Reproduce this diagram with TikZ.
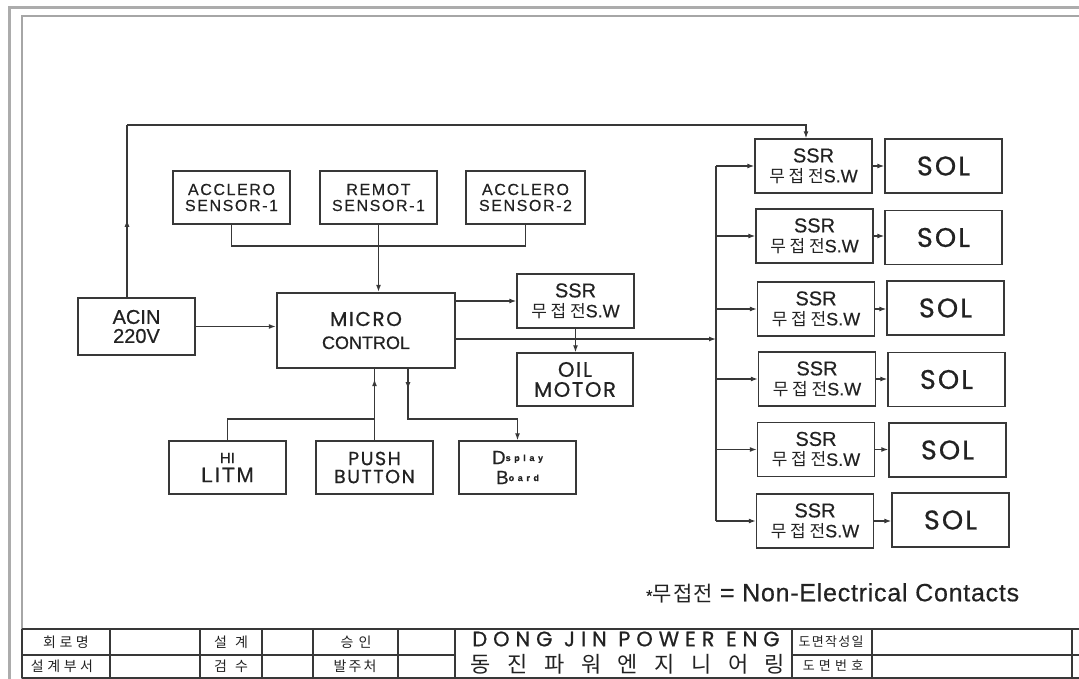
\documentclass[tikz,border=0pt]{standalone}
\usepackage{fontspec}
\setmainfont[FakeBold=0.5]{Liberation Sans}
\newfontfamily\geo[LetterSpace=8, FakeBold=0.7]{Poppins}
\newfontfamily\kr{Noto Sans CJK KR}
\newfontfamily\wide[LetterSpace=10, FakeBold=0.4]{Liberation Sans}
\usetikzlibrary{arrows.meta,decorations.markings}
\definecolor{ink}{HTML}{383838}
\definecolor{txt}{HTML}{222222}
\newcommand{\ssrtxt}{{\fontsize{20}{20}\selectfont SSR}\\{\kr\addfontfeature{LetterSpace=22}\fontsize{17}{17}\selectfont 무접전}{\fontsize{18}{18}\selectfont S.W}}
\newcommand{\soltxt}{SOL}
\begin{document}
\begin{tikzpicture}[x=1pt,y=-1pt,
  box/.style={draw=ink, line width=1.4pt, inner sep=0pt, align=center, text=txt, minimum width=117pt, minimum height=54pt},
  ssrbox/.style={box, font=\fontsize{18}{20}\selectfont},
  solbox/.style={box, font=\geo\fontsize{27}{27}\selectfont},
  conn/.style={draw=ink, line width=1.3pt},
  arr/.style={conn, -{Latex[length=7pt,width=5pt]}},
  midarr/.style={conn, postaction={decorate}, decoration={markings, mark=at position #1 with {\arrow{Latex[length=7pt,width=5pt]}}}},
  lab/.style={inner sep=0pt, text=txt},
  tline/.style={draw=ink, line width=1.3pt}
]
\useasboundingbox (0,0) rectangle (1079,679);
% frame
\draw[gray!65, line width=3pt] (9,679) -- (9,8) -- (1079,8);
\draw[gray!70, line width=1.2pt] (22,679) -- (22,16) -- (1079,16);

% nodes
\node[box, minimum height=57pt, font=\fontsize{20}{19}\selectfont] (acin) at (136.5,326.5) {ACIN\\220V};
\node[box, minimum height=53pt, font=\wide\fontsize{16}{16}\selectfont] (s1) at (231.5,197.5) {ACCLERO\\SENSOR-1};
\node[box, minimum height=53pt, font=\wide\fontsize{16}{16}\selectfont] (s2) at (378.5,197.5) {REMOT\\SENSOR-1};
\node[box, minimum width=119pt, minimum height=53pt, font=\wide\fontsize{16}{16}\selectfont] (s3) at (525.5,197.5) {ACCLERO\\SENSOR-2};
\node[box, line width=2.4pt, minimum width=178pt, minimum height=75pt, font=\fontsize{18}{23}\selectfont] (micro) at (366,330.5) {{\geo\fontsize{20}{20}\selectfont MICRO}\\{\fontsize{18}{18}\selectfont CONTROL}};
\node[ssrbox] (ssrm) at (575.5,301) {\ssrtxt};
\node[box, minimum width=116pt, minimum height=53pt, font=\geo\fontsize{21}{20}\selectfont] (oil) at (575,379.5) {OIL\\MOTOR};
\node[box, minimum height=53pt, font=\fontsize{20}{19}\selectfont] (hi) at (227.5,467.5) {{\fontsize{15}{15}\selectfont HI}\\{\addfontfeature{LetterSpace=8}\fontsize{21}{21}\selectfont LITM}};
\node[box, minimum height=53pt, font=\geo\fontsize{19}{18}\selectfont] (push) at (374.5,467.5) {PUSH\\BUTTON};
\node[box, minimum height=53pt, font=\fontsize{19}{20}\selectfont] (disp) at (517.5,467.5) {D{\raisebox{3pt}{\bfseries\fontsize{9}{9}\selectfont\addfontfeature{LetterSpace=40} splay}}\\B{\raisebox{3pt}{\bfseries\fontsize{9}{9}\selectfont\addfontfeature{LetterSpace=40} oard}}};

\node[ssrbox] (ssr1) at (813.5,166) {\ssrtxt};
\node[ssrbox] (ssr2) at (814.5,236) {\ssrtxt};
\node[ssrbox] (ssr3) at (816,309) {\ssrtxt};
\node[ssrbox] (ssr4) at (817,379) {\ssrtxt};
\node[ssrbox] (ssr5) at (816,449.5) {\ssrtxt};
\node[ssrbox] (ssr6) at (815,521) {\ssrtxt};
\node[solbox] (sol1) at (943.5,166) {\soltxt};
\node[solbox] (sol2) at (943.5,237.5) {\soltxt};
\node[solbox] (sol3) at (945.5,308) {\soltxt};
\node[solbox] (sol4) at (946.5,379.5) {\soltxt};
\node[solbox] (sol5) at (947.5,450) {\soltxt};
\node[solbox] (sol6) at (950.5,520) {\soltxt};

% connectors
\coordinate (tl) at (127,125);
\coordinate (tr) at (806,125);
\draw[midarr=0.45] ([xshift=-9.5pt]acin.north) -- (tl);
\draw[arr] (tl) -- (tr) -- (tr |- ssr1.north);
\coordinate (sb) at (0,246);
\draw[conn] (s1.south) |- (s3.south |- sb) -- (s3.south);
\draw[arr] (s2.south) -- (s2.south |- micro.north);
\draw[arr] (acin.east) -- (acin.east -| micro.west);
\coordinate (bj) at (0,419);
\draw[conn] (hi.north) |- (push.north |- bj);
\draw[midarr=0.86] (push.north) -- (push.north |- micro.south);
\coordinate (dx) at (408,0);
\draw[midarr=20pt, -{Latex[length=7pt,width=5pt]}] (micro.south -| dx) -- (dx |- bj) -| (disp.north);
\coordinate (bus) at (716,0);
\coordinate (mb) at (716,339);
\draw[arr] (micro.east |- ssrm.west) -- (ssrm.west);
\draw[arr] (ssrm.south) -- (ssrm.south |- oil.north);
\draw[arr] (micro.east |- mb) -- (mb);
\draw[conn] (bus |- ssr1.west) -- (bus |- ssr6.west);
\foreach \i in {1,...,6}{
  \draw[arr] (bus |- ssr\i.west) -- (ssr\i.west);
  \draw[arr] (ssr\i.east) -- (sol\i.west |- ssr\i.east);
}

% note
\node[lab, anchor=west] (note) at (646,593) {{\fontsize{16}{16}\selectfont *}{\kr\addfontfeature{LetterSpace=6}\fontsize{21}{21}\selectfont 무접전}\hspace{7pt}{\addfontfeature{LetterSpace=3}\fontsize{25}{25}\selectfont = Non-Electrical Contacts}};

% title block
\draw[tline] (22,629) -- (1079,629);
\draw[tline] (22,678) -- (1079,678);
\draw[tline] (22,655) -- (455,655);
\draw[tline] (792,655) -- (1079,655);
\foreach \x in {22,110,200,262,313,398,872,1072}{\draw[tline] (\x,629) -- (\x,678);}
\draw[draw=ink, line width=2.2pt] (455,629) rectangle (792,678);
\node[lab] (t1) at (66,642) {\kr\addfontfeature{LetterSpace=25}\fontsize{14}{14}\selectfont 회로명};
\node[lab] (t2) at (62,666) {\kr\addfontfeature{LetterSpace=25}\fontsize{14}{14}\selectfont 설계부서};
\node[lab] (t3) at (231,642) {\kr\addfontfeature{LetterSpace=35}\fontsize{14}{14}\selectfont 설 계};
\node[lab] (t4) at (231,666) {\kr\addfontfeature{LetterSpace=35}\fontsize{14}{14}\selectfont 검 수};
\node[lab] (t5) at (356,642) {\kr\addfontfeature{LetterSpace=15}\fontsize{14}{14}\selectfont 승 인};
\node[lab] (t6) at (355,666) {\kr\addfontfeature{LetterSpace=15}\fontsize{14}{14}\selectfont 발주처};
\node[lab] (t7) at (626,639) {\geo\addfontfeature{LetterSpace=28}\fontsize{21}{21}\selectfont DONG JIN POWER ENG};
\node[lab] (t8) at (628,664) {\kr\addfontfeature{LetterSpace=75}\fontsize{22}{22}\selectfont 동진파워엔지니어링};
\node[lab] (t9) at (831,642) {\kr\addfontfeature{LetterSpace=10}\fontsize{13}{13}\selectfont 도면작성일};
\node[lab] (t10) at (833,666) {\kr\addfontfeature{LetterSpace=10}\fontsize{13}{13}\selectfont 도 면 번 호};
\end{tikzpicture}
\end{document}
